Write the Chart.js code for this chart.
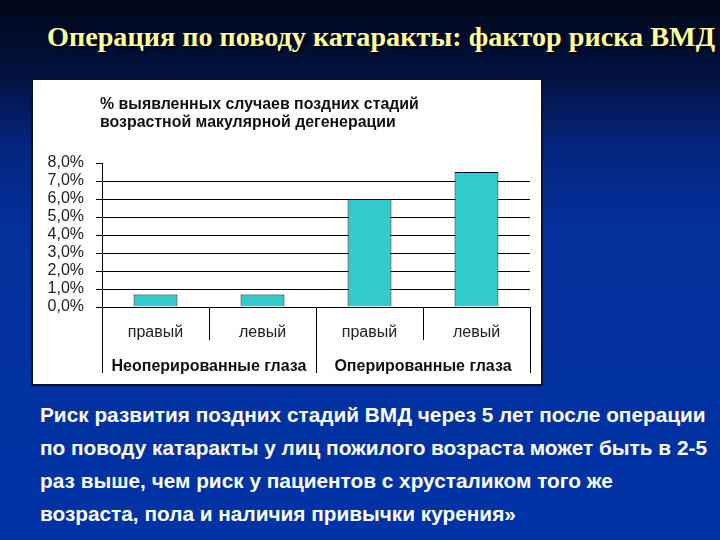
<!DOCTYPE html>
<html>
<head>
<meta charset="utf-8">
<script src="https://cdn.jsdelivr.net/npm/chart.js@4"></script>
<style>
  html, body { margin: 0; padding: 0; }
  body {
    width: 720px; height: 540px; position: relative; overflow: hidden;
    background: linear-gradient(180deg, #010718 0%, #021240 14%, #04247a 26%, #04309a 42%, #0033a6 100%);
  }
  #title {
    position: absolute; left: 47px; top: 21px; white-space: nowrap;
    font: bold 28.2px "Liberation Serif", serif; color: #ffff99;
    text-shadow: 2px 2px 2px #000;
  }
  #box {
    position: absolute; left: 31px; top: 78px; width: 508px; height: 304px;
    background: #fff; border: 2px solid #0a1030;
  }
  #box canvas { position: absolute; left: 0; top: 0; }
  #heading {
    position: absolute; left: 67px; top: 15px; line-height: 19px;
    font: bold 15.9px "Liberation Sans", Arial, sans-serif; color: #111; white-space: nowrap;
  }
  #note {
    position: absolute; left: 40px; top: 398px; white-space: nowrap;
    font: bold 20.8px "Liberation Sans", Arial, sans-serif; color: #fff;
    line-height: 33px;
  }
</style>
</head>
<body>
<div id="title">Операция по поводу катаракты: фактор риска ВМД</div>
<div id="box">
  <canvas id="chart" width="508" height="304"></canvas>
  <div id="heading">% выявленных случаев поздних стадий<br>возрастной макулярной дегенерации</div>
</div>
<div id="note">Риск развития поздних стадий ВМД через 5 лет после операции<br>по поводу катаракты у лиц пожилого возраста может быть в 2-5<br>раз выше, чем риск у пациентов с хрусталиком того же<br>возраста, пола и наличия привычки курения»</div>
<script>
// ---------- Данные ----------
const eyes = ["правый", "левый", "правый", "левый"];
const groups = ["Неоперированные глаза", "Оперированные глаза"];
const values = [0.7, 0.7, 6.0, 7.5];

const font16 = { family: '"Liberation Sans", Arial, sans-serif', size: 16 };

// ---------- Двухуровневая подпись оси X ----------
const groupAxis = {
  id: 'groupAxis',
  afterDraw(chart) {
    const { ctx, chartArea } = chart;
    const x = chart.scales.x;
    const px = eyes.map((_, i) => x.getPixelForValue(i));
    const bottom = chartArea.bottom;
    const edges = [chartArea.left];
    for (let i = 1; i < px.length; i++) edges.push((px[i - 1] + px[i]) / 2);
    edges.push(chartArea.right);

    ctx.save();
    ctx.strokeStyle = '#000';
    ctx.lineWidth = 1;
    edges.forEach((e, i) => {
      const len = (i % 2 === 0) ? 66 : 33;
      const xx = Math.round(e) + 0.5;
      ctx.beginPath();
      ctx.moveTo(xx, bottom);
      ctx.lineTo(xx, bottom + len);
      ctx.stroke();
    });

    ctx.fillStyle = '#111';
    ctx.font = 'bold 16px "Liberation Sans", Arial, sans-serif';
    ctx.textAlign = 'center';
    ctx.textBaseline = 'middle';
    groups.forEach((g, i) => {
      const cx = (edges[i * 2] + edges[i * 2 + 2]) / 2;
      ctx.fillText(g, cx, bottom + 60);
    });
    ctx.restore();
  }
};

new Chart(document.getElementById('chart'), {
  type: 'bar',
  data: {
    labels: eyes,
    datasets: [{
      data: values,
      backgroundColor: '#33cccc',
      borderColor: '#000',
      borderWidth: 1,
      categoryPercentage: 1,
      barPercentage: 0.41
    }]
  },
  options: {
    responsive: false,
    animation: false,
    layout: { padding: { top: 83, right: 11, left: 0, bottom: 0 } },
    plugins: { legend: { display: false }, tooltip: { enabled: false } },
    scales: {
      x: {
        grid: { display: false, drawTicks: false },
        border: { display: true, color: '#000', width: 1 },
        ticks: { color: '#222', font: font16, padding: 16 },
        afterFit(scale) { scale.height = 77; }
      },
      y: {
        min: 0, max: 8,
        grid: {
          color: c => (c.tick && c.tick.value === 8) ? 'rgba(0,0,0,0)' : '#000',
          tickColor: '#000',
          tickLength: 6,
          lineWidth: 1
        },
        border: { display: true, color: '#000', width: 1 },
        ticks: {
          stepSize: 1,
          autoSkip: false,
          color: '#222',
          font: font16,
          padding: 12,
          callback: v => v.toFixed(1).replace('.', ',') + '%'
        },
        afterFit(scale) { scale.width = 69; }
      }
    }
  },
  plugins: [groupAxis]
});
</script>
</body>
</html>
